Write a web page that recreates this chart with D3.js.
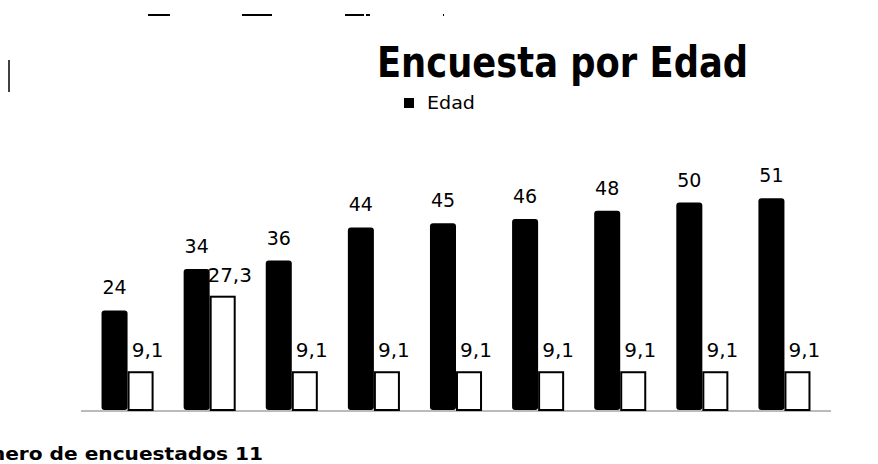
<!DOCTYPE html>
<html>
<head>
<meta charset="utf-8">
<script src="https://cdn.jsdelivr.net/npm/d3@7"></script>
<style>
  body { margin: 0; background: #fff; }
  svg { display: block; }
  text { font-family: "DejaVu Sans", "Open Sans", sans-serif; fill: #000; }
</style>
</head>
<body>
<div id="chart"></div>
<script>
// grupos de edad (sin etiquetas visibles en el eje)
var groups = ["1", "2", "3", "4", "5", "6", "7", "8", "9"]
// serie negra: Edad
var edad = [24, 34, 36, 44, 45, 46, 48, 50, 51]
// serie blanca: porcentaje
var pct = [9.1, 27.3, 9.1, 9.1, 9.1, 9.1, 9.1, 9.1, 9.1]
var pctLabels = ["9,1", "27,3", "9,1", "9,1", "9,1", "9,1", "9,1", "9,1", "9,1"]
var series = ["edad", "pct"]

var width = 878, height = 464

var svg = d3.select("#chart").append("svg")
  .attr("width", width)
  .attr("height", height)

var x = d3.scaleBand().domain(groups).range([81, 831]).paddingInner(0.366).paddingOuter(0.25)
var xs = d3.scaleBand().domain(series).range([0, x.bandwidth()])
var y = d3.scaleLinear().domain([0, 60]).range([410, 161])

var rows = groups.map(function(g, i) {
  return {g: g, edad: edad[i], pct: pct[i], pctLabel: pctLabels[i]}
})

// restos de trazos en la parte superior
var decor = svg.append("g").attr("stroke", "#000").attr("stroke-width", 2)
decor.append("line").attr("x1", 148).attr("x2", 170).attr("y1", 15).attr("y2", 15)
decor.append("line").attr("x1", 242).attr("x2", 272).attr("y1", 15).attr("y2", 15)
decor.append("line").attr("x1", 345).attr("x2", 364).attr("y1", 15).attr("y2", 15)
decor.append("line").attr("x1", 366).attr("x2", 370).attr("y1", 15).attr("y2", 15)
decor.append("line").attr("x1", 443).attr("x2", 444).attr("y1", 15).attr("y2", 15)
decor.append("line").attr("x1", 9).attr("x2", 9).attr("y1", 60).attr("y2", 92).attr("stroke-width", 1.5)

// linea base
svg.append("line")
  .attr("x1", x.range()[0]).attr("x2", x.range()[1])
  .attr("y1", y(0) + 1).attr("y2", y(0) + 1)
  .attr("stroke", "#777").attr("stroke-width", 1)

var g = svg.selectAll("g.grp").data(rows).enter().append("g")
  .attr("class", "grp")
  .attr("transform", function(d) { return "translate(" + x(d.g) + ",0)" })

g.append("rect")
  .attr("x", xs("edad"))
  .attr("y", function(d) { return y(d.edad) })
  .attr("width", xs.bandwidth())
  .attr("height", function(d) { return y(0) - y(d.edad) })
  .attr("rx", 3)
  .attr("fill", "#000")

g.append("rect")
  .attr("x", xs("pct") + 1)
  .attr("y", function(d) { return y(d.pct) })
  .attr("width", xs.bandwidth() - 2)
  .attr("height", function(d) { return y(0) - y(d.pct) })
  .attr("fill", "#fff")
  .attr("stroke", "#000")
  .attr("stroke-width", 2)

g.append("text")
  .attr("x", xs("edad") + xs.bandwidth() / 2)
  .attr("y", function(d) { return y(d.edad) - 16 })
  .attr("text-anchor", "middle")
  .style("font-size", "19px")
  .text(function(d) { return d.edad })

g.append("text")
  .attr("x", xs("pct") + xs.bandwidth() / 2 + 7)
  .attr("y", function(d) { return y(d.pct) - 15 })
  .attr("text-anchor", "middle")
  .style("font-size", "20px")
  .text(function(d) { return d.pctLabel })

// titulo
svg.append("text")
  .attr("x", 377).attr("y", 77)
  .attr("textLength", 371)
  .attr("lengthAdjust", "spacingAndGlyphs")
  .style("font-size", "42px")
  .style("font-weight", "bold")
  .text("Encuesta por Edad")

// leyenda
svg.append("rect")
  .attr("x", 404).attr("y", 98).attr("width", 10).attr("height", 10)
  .attr("fill", "#000")
svg.append("text")
  .attr("x", 427).attr("y", 109)
  .attr("textLength", 48)
  .attr("lengthAdjust", "spacingAndGlyphs")
  .style("font-size", "17px")
  .text("Edad")

// nota inferior (recortada por la izquierda en el original)
svg.append("text")
  .attr("x", -47).attr("y", 460)
  .attr("textLength", 310)
  .attr("lengthAdjust", "spacingAndGlyphs")
  .style("font-size", "17px")
  .style("font-weight", "bold")
  .text("Número de encuestados 11")
</script>
</body>
</html>
